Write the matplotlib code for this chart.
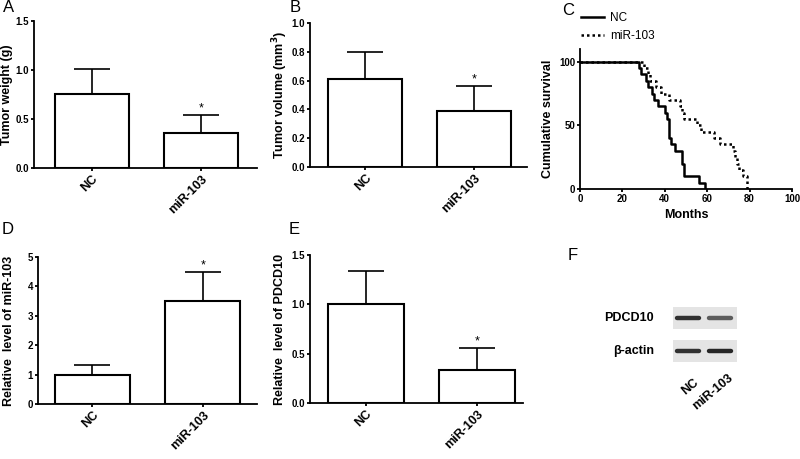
import matplotlib
matplotlib.use("Agg")
import matplotlib.pyplot as plt
import numpy as np

plt.rcParams["font.family"] = ["Liberation Sans", "DejaVu Sans"]

GROUPS = ["NC", "miR-103"]

# bar panels: mean and upper error (SD)
weight_mean = [0.76, 0.36]
weight_err = [0.25, 0.18]

volume_mean = [0.61, 0.39]
volume_err = [0.19, 0.17]

mir_level_mean = [1.0, 3.5]
mir_level_err = [0.33, 1.0]

pdcd10_mean = [1.0, 0.33]
pdcd10_err = [0.34, 0.23]

# survival times (months) for each patient, no censoring
nc_times = [28, 29, 31, 32, 34, 35, 37, 40, 41, 42, 42, 42, 43, 45, 48, 48, 49, 49, 56, 59]
mir_times = [30, 32, 33, 36, 38, 42, 47, 48, 49, 55, 57, 63, 66, 72, 73, 74, 75, 77, 79, 79]

# western blot band intensity (rows: PDCD10, beta-actin; cols: NC, miR-103)
blot_rows = ["PDCD10", "β-actin"]
blot_intensity = [[0.95, 0.75], [0.95, 1.0]]

W, H = 800, 459
fig = plt.figure(figsize=(W / 100, H / 100), dpi=100)


def px_axes(left, top, right, bottom):
    return fig.add_axes([left / W, 1 - bottom / H, (right - left) / W, (bottom - top) / H])


def style_axes(ax):
    for s in ["top", "right"]:
        ax.spines[s].set_visible(False)
    for s in ["left", "bottom"]:
        ax.spines[s].set_linewidth(1.3)
    ax.tick_params(width=1.3, length=2.5, labelsize=7, pad=1)
    for lab in ax.get_yticklabels() + ax.get_xticklabels():
        lab.set_fontweight("bold")


def place_ylabel(ax, px_x):
    box = ax.get_position()
    left = box.x0 * W
    width = box.width * W
    ax.yaxis.set_label_coords((px_x - left) / width, 0.5)


def bar_panel(ax, means, errs, ylim, yticks, ylabel, xlim, label_x, fmt="{:.1f}"):
    x = np.arange(len(GROUPS))
    ax.bar(x, means, width=0.68, color="white", edgecolor="black", linewidth=1.5, zorder=3)
    ax.errorbar(x, means, yerr=[np.zeros(len(errs)), errs], fmt="none", ecolor="black",
                elinewidth=1.2, capsize=13, capthick=1.2, zorder=2)
    tops = np.array(means) + np.array(errs)
    ax.annotate("*", (x[1], tops[1]), xytext=(0, 0.5), textcoords="offset points",
                ha="center", va="bottom", fontsize=9)
    ax.set_xlim(*xlim)
    ax.set_ylim(*ylim)
    ax.set_yticks(yticks)
    ax.set_yticklabels([fmt.format(t) for t in yticks])
    ax.set_xticks(x)
    ax.set_xticklabels(GROUPS, rotation=45, ha="right", rotation_mode="anchor")
    ax.set_ylabel(ylabel, fontsize=9, fontweight="bold", va="center")
    style_axes(ax)
    for lab in ax.get_xticklabels():
        lab.set_fontsize(9)
    place_ylabel(ax, label_x)


# A
axA = px_axes(34, 21, 257, 168)
bar_panel(axA, weight_mean, weight_err, (0, 1.5), [0.0, 0.5, 1.0, 1.5],
          "Tumor weight (g)", (-0.53, 1.51), 7.5)

# B
axB = px_axes(310, 23, 527, 167)
bar_panel(axB, volume_mean, volume_err, (0, 1.0), [0.0, 0.2, 0.4, 0.6, 0.8, 1.0],
          "Tumor volume (mm$^\\mathbf{3}$)", (-0.51, 1.49), 280)

# D
axD = px_axes(38, 257, 257, 404)
bar_panel(axD, mir_level_mean, mir_level_err, (0, 5), [0, 1, 2, 3, 4, 5],
          "Relative  level of miR-103", (-0.49, 1.49), 9, fmt="{:d}")

# E
axE = px_axes(310, 255, 523, 403)
bar_panel(axE, pdcd10_mean, pdcd10_err, (0, 1.5), [0.0, 0.5, 1.0, 1.5],
          "Relative  level of PDCD10", (-0.50, 1.41), 280)

# C survival
axC = px_axes(580, 49, 792, 189)


def km_steps(times):
    t = np.sort(np.array(times, dtype=float))
    n = len(t)
    surv = 100.0 * (1 - np.arange(1, n + 1) / n)
    xs = np.concatenate([[0], t])
    ys = np.concatenate([[100], surv])
    return xs, ys


xs, ys = km_steps(nc_times)
axC.step(xs, ys, where="post", color="black", lw=1.8, label="NC")
xs, ys = km_steps(mir_times)
axC.step(xs, ys, where="post", color="black", lw=1.8, linestyle=(0, (1, 1.2)), label="miR-103")
axC.set_xlim(0, 100)
axC.set_ylim(0, 110)
axC.set_xticks([0, 20, 40, 60, 80, 100])
axC.set_yticks([0, 50, 100])
axC.set_xlabel("Months", fontsize=9, fontweight="bold", labelpad=4)
axC.set_ylabel("Cumulative survival", fontsize=9, fontweight="bold", va="center")
style_axes(axC)
place_ylabel(axC, 548)
axC.legend(loc="lower left", bbox_to_anchor=(-0.03, 1.0), frameon=False, fontsize=8.5,
           handlelength=2.0, handletextpad=0.5, labelspacing=0.5, borderpad=0.1)

# F western blot (drawn on a pixel overlay)
axF = fig.add_axes([0, 0, 1, 1], zorder=-1)
axF.set_xlim(0, W)
axF.set_ylim(H, 0)
axF.axis("off")
lane_x = [688, 720]
row_y = [318, 351]
for r, name in enumerate(blot_rows):
    y = row_y[r]
    axF.add_patch(plt.Rectangle((673, y - 11), 64, 22, facecolor="#e4e4e4", edgecolor="none"))
    for c, lx in enumerate(lane_x):
        v = blot_intensity[r][c]
        g = 1 - v * 0.85
        axF.plot([lx - 11, lx + 11], [y, y], color=(g, g, g), lw=3.2,
                 solid_capstyle="round")
    axF.text(654, y, name, ha="right", va="center", fontsize=9, fontweight="bold")
axF.text(lane_x[0] + 5, 376, "NC", rotation=40, ha="right", va="top",
         rotation_mode="anchor", fontsize=9, fontweight="bold")
axF.text(lane_x[1] + 8, 372, "miR-103", rotation=40, ha="right", va="top",
         rotation_mode="anchor", fontsize=9, fontweight="bold")

# panel letters
for letter, (px, py) in {"A": (3, 0), "B": (290, 0), "C": (562, 3), "D": (2, 222),
                         "E": (289, 222), "F": (568, 248)}.items():
    fig.text(px / W, 1 - py / H, letter, ha="left", va="top", fontsize=12)

fig.savefig("out.png", dpi=100)
